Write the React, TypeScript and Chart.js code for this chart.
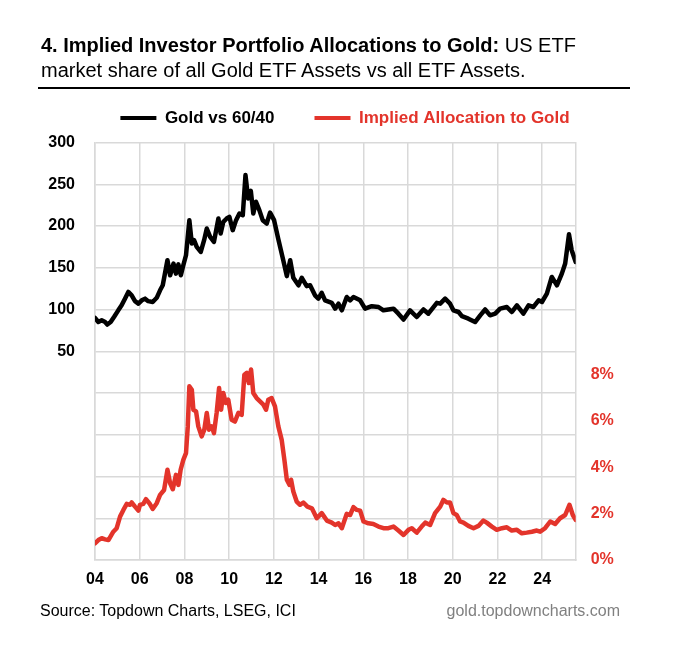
import React, { useEffect, useRef } from "react";
import { Chart, registerables } from "chart.js";

Chart.register(...registerables);

// Gold vs 60/40 portfolio (left axis)
const goldDates = [
  2004.0, 2004.15, 2004.3, 2004.45, 2004.55, 2004.7, 2004.85, 2005.04, 2005.19, 2005.34,
  2005.49, 2005.64, 2005.79, 2005.94, 2006.09, 2006.24, 2006.38, 2006.58, 2006.76, 2006.91,
  2007.03, 2007.24, 2007.36, 2007.51, 2007.62, 2007.73, 2007.84, 2007.95, 2008.07, 2008.22,
  2008.33, 2008.43, 2008.55, 2008.73, 2008.88, 2009.0, 2009.15, 2009.32, 2009.52, 2009.62,
  2009.74, 2009.89, 2010.01, 2010.16, 2010.31, 2010.46, 2010.61, 2010.73, 2010.85, 2010.97,
  2011.08, 2011.2, 2011.35, 2011.5, 2011.68, 2011.83, 2012.01, 2012.2, 2012.42, 2012.58,
  2012.73, 2012.87, 2013.1, 2013.25, 2013.47, 2013.62, 2013.84, 2013.99, 2014.14, 2014.29,
  2014.59, 2014.74, 2014.89, 2015.04, 2015.26, 2015.41, 2015.56, 2015.86, 2016.08, 2016.38,
  2016.68, 2016.9, 2017.35, 2017.57, 2017.8, 2018.09, 2018.39, 2018.69, 2018.91, 2019.29,
  2019.44, 2019.66, 2019.88, 2020.03, 2020.26, 2020.41, 2020.7, 2021.0, 2021.23, 2021.45,
  2021.67, 2021.9, 2022.12, 2022.42, 2022.64, 2022.87, 2023.16, 2023.39, 2023.61, 2023.84,
  2023.99, 2024.21, 2024.43, 2024.66, 2024.88, 2025.03, 2025.2, 2025.32, 2025.5,
];
const goldVs6040 = [
  90, 85, 87, 85, 82, 85, 91, 99, 105, 113,
  121, 117, 110, 107, 111, 113, 110, 109, 114, 123,
  129, 159, 141, 155, 143, 154, 141, 153, 165, 207,
  179, 183, 175, 169, 183, 197, 187, 181, 209, 191,
  205, 209, 211, 195, 207, 215, 213, 261, 233, 242,
  215, 229, 219, 207, 203, 216, 207, 184, 159, 140,
  159, 138, 129, 138, 128, 129, 117, 113, 120, 111,
  108, 101, 107, 99, 115, 111, 115, 111, 101, 104,
  103, 99, 101, 95, 88, 99, 91, 100, 95, 108,
  107, 113, 107, 99, 97, 92, 89, 85, 93, 100,
  93, 95, 101, 103, 97, 105, 95, 105, 103, 111,
  109, 119, 139, 129, 143, 155, 190, 171, 157,
];

// Implied allocation to gold, % (right axis)
const allocDates = [
  2004.0, 2004.15, 2004.3, 2004.45, 2004.6, 2004.82, 2004.97, 2005.12, 2005.27, 2005.42,
  2005.57, 2005.64, 2005.79, 2005.94, 2006.01, 2006.16, 2006.28, 2006.43, 2006.58, 2006.76,
  2006.91, 2007.09, 2007.24, 2007.36, 2007.48, 2007.62, 2007.73, 2007.83, 2007.95, 2008.07,
  2008.15, 2008.22, 2008.33, 2008.4, 2008.52, 2008.62, 2008.77, 2008.89, 2009.0, 2009.1,
  2009.22, 2009.32, 2009.44, 2009.55, 2009.64, 2009.74, 2009.85, 2009.96, 2010.11, 2010.26,
  2010.41, 2010.56, 2010.68, 2010.79, 2010.88, 2010.98, 2011.08, 2011.23, 2011.38, 2011.53,
  2011.65, 2011.75, 2011.9, 2012.05, 2012.2, 2012.35, 2012.47, 2012.58, 2012.7, 2012.77,
  2012.87, 2013.02, 2013.17, 2013.32, 2013.5, 2013.7, 2013.92, 2014.14, 2014.37, 2014.59,
  2014.74, 2014.89, 2015.04, 2015.26, 2015.41, 2015.56, 2015.71, 2015.86, 2016.01, 2016.23,
  2016.45, 2016.68, 2016.9, 2017.12, 2017.35, 2017.57, 2017.8, 2018.02, 2018.17, 2018.39,
  2018.61, 2018.77, 2018.99, 2019.21, 2019.44, 2019.58, 2019.74, 2019.88, 2020.03, 2020.18,
  2020.33, 2020.48, 2020.7, 2020.93, 2021.15, 2021.37, 2021.52, 2021.75, 2021.97, 2022.2,
  2022.42, 2022.64, 2022.87, 2023.09, 2023.31, 2023.54, 2023.76, 2023.91, 2024.13, 2024.36,
  2024.58, 2024.8, 2025.03, 2025.22, 2025.37, 2025.5,
];
const allocPct = [
  0.72, 0.86, 0.94, 0.89, 0.86, 1.22, 1.37, 1.87, 2.16, 2.42,
  2.38, 2.48, 2.3, 2.13, 2.38, 2.42, 2.62, 2.45, 2.2, 2.45,
  2.81, 3.02, 3.89, 3.31, 3.05, 3.67, 3.24, 3.89, 4.32, 4.61,
  5.76, 7.49, 7.34, 6.48, 6.41, 5.76, 5.33, 5.62, 6.34, 5.62,
  5.76, 5.47, 6.34, 7.42, 6.48, 7.2, 6.77, 6.91, 6.05, 5.97,
  6.34, 6.26, 7.99, 8.07, 7.63, 8.21, 7.2, 6.98, 6.84, 6.7,
  6.48, 6.91, 6.98, 6.62, 5.76, 5.18, 4.32, 3.46, 3.24, 3.46,
  2.95, 2.52, 2.38, 2.48, 2.3, 2.23, 1.8, 2.02, 1.7, 1.61,
  1.51, 1.58, 1.37, 1.99, 1.94, 2.28, 2.16, 2.13, 1.66, 1.58,
  1.55, 1.44, 1.37, 1.37, 1.44, 1.27, 1.08, 1.3, 1.37, 1.18,
  1.44, 1.61, 1.51, 2.02, 2.3, 2.59, 2.48, 2.48, 2.02, 1.94,
  1.66, 1.61, 1.47, 1.37, 1.47, 1.7, 1.61, 1.44, 1.3, 1.37,
  1.41, 1.27, 1.3, 1.15, 1.18, 1.22, 1.27, 1.22, 1.37, 1.66,
  1.55, 1.8, 1.94, 2.38, 1.94, 1.73,
];

const seriesLabels = ["Gold vs 60/40", "Implied Allocation to Gold"];

const RED = "#e3342b";
const GRID = "#d9d9d9";
const FONT = "'Liberation Sans', Arial, Helvetica, sans-serif";

export default function App() {
  const ref = useRef<HTMLCanvasElement>(null);

  useEffect(() => {
    const legendGap = {
      id: "legendGap",
      beforeLayout(chart: any) {
        const lg = chart.legend;
        if (lg && !lg.__patched) {
          const orig = lg.fit;
          lg.fit = function () {
            orig.call(this);
            this.height += 6;
          };
          lg.__patched = true;
        }
      },
    };

    const tickFont = { family: FONT, size: 16, weight: "bold" as const };

    const chart = new Chart(ref.current!, {
      type: "line",
      data: {
        datasets: [
          {
            label: seriesLabels[0],
            data: goldDates.map((x, i) => ({ x, y: goldVs6040[i] })),
            borderColor: "#000000",
            backgroundColor: "#000000",
            borderWidth: 4.5,
            pointRadius: 0,
            tension: 0,
            borderJoinStyle: "round",
            borderCapStyle: "round",
            yAxisID: "y",
          },
          {
            label: seriesLabels[1],
            data: allocDates.map((x, i) => ({ x, y: allocPct[i] })),
            borderColor: RED,
            backgroundColor: RED,
            borderWidth: 4.5,
            pointRadius: 0,
            tension: 0,
            borderJoinStyle: "round",
            borderCapStyle: "round",
            yAxisID: "y2",
          },
        ],
      },
      options: {
        responsive: false,
        animation: false,
        layout: { padding: { top: 9.5, left: 10, right: 0, bottom: 0 } },
        plugins: {
          tooltip: { enabled: false },
          legend: {
            display: true,
            position: "top",
            align: "center",
            labels: {
              boxWidth: 36,
              boxHeight: 4,
              padding: 40,
              font: { family: FONT, size: 17, weight: "bold" },
              generateLabels: (c: any) =>
                c.data.datasets.map((ds: any, i: number) => ({
                  text: ds.label,
                  fillStyle: ds.borderColor,
                  strokeStyle: ds.borderColor,
                  lineWidth: 0,
                  fontColor: i === 0 ? "#000000" : RED,
                  hidden: false,
                  datasetIndex: i,
                })),
            },
          },
        },
        scales: {
          x: {
            type: "linear",
            min: 2004,
            max: 2025.5,
            ticks: {
              stepSize: 2,
              includeBounds: false,
              autoSkip: false,
              maxTicksLimit: 30,
              maxRotation: 0,
              padding: 10,
              color: "#000000",
              font: tickFont,
              callback: (v: any) =>
                Number(v) % 2 === 0 ? String(Number(v) % 100).padStart(2, "0") : "",
            },
            grid: { color: GRID, lineWidth: 1.5, drawTicks: false },
            border: { color: GRID, width: 1.5 },
            afterFit: (s: any) => {
              s.height = 46;
            },
          },
          y: {
            position: "left",
            min: -200,
            max: 300,
            ticks: {
              stepSize: 50,
              autoSkip: false,
              padding: 20,
              color: "#000000",
              font: tickFont,
              callback: (v: any) => (Number(v) >= 50 ? String(v) : ""),
            },
            grid: { color: GRID, lineWidth: 1.5, drawTicks: false },
            border: { color: GRID, width: 1.5 },
            afterFit: (s: any) => {
              s.width = 85;
            },
          },
          y2: {
            position: "right",
            min: 0,
            max: 18,
            ticks: {
              stepSize: 2,
              autoSkip: false,
              padding: 15,
              color: RED,
              font: tickFont,
              callback: (v: any) => (Number(v) <= 8 ? `${v}%` : ""),
            },
            grid: { display: false, drawTicks: false },
            border: { display: true, color: GRID, width: 1.5 },
            afterFit: (s: any) => {
              s.width = 104.3;
            },
          },
        },
      },
      plugins: [legendGap],
    } as any);

    return () => chart.destroy();
  }, []);

  return (
    <div
      style={{
        position: "fixed",
        left: 0,
        top: 0,
        width: 680,
        height: 647,
        background: "#ffffff",
        fontFamily: FONT,
        color: "#000",
      }}
    >
      <canvas
        ref={ref}
        width={680}
        height={546}
        style={{ position: "absolute", left: 0, top: 60, width: 680, height: 546 }}
      />
      <div
        style={{
          position: "absolute",
          left: 41,
          top: 33,
          fontSize: 20,
          lineHeight: "25px",
          whiteSpace: "nowrap",
        }}
      >
        <div>
          <b>4. Implied Investor Portfolio Allocations to Gold:</b> US ETF
        </div>
        <div>market share of all Gold ETF Assets vs all ETF Assets.</div>
      </div>
      <div
        style={{
          position: "absolute",
          left: 38,
          top: 87,
          width: 592,
          height: 0,
          borderTop: "2px solid #000",
        }}
      />
      <div
        style={{
          position: "absolute",
          left: 40,
          top: 601,
          fontSize: 16,
          lineHeight: "20px",
          whiteSpace: "nowrap",
        }}
      >
        Source: Topdown Charts, LSEG, ICI
      </div>
      <div
        style={{
          position: "absolute",
          right: 60,
          top: 601,
          fontSize: 16,
          lineHeight: "20px",
          color: "#808080",
          whiteSpace: "nowrap",
        }}
      >
        gold.topdowncharts.com
      </div>
    </div>
  );
}
